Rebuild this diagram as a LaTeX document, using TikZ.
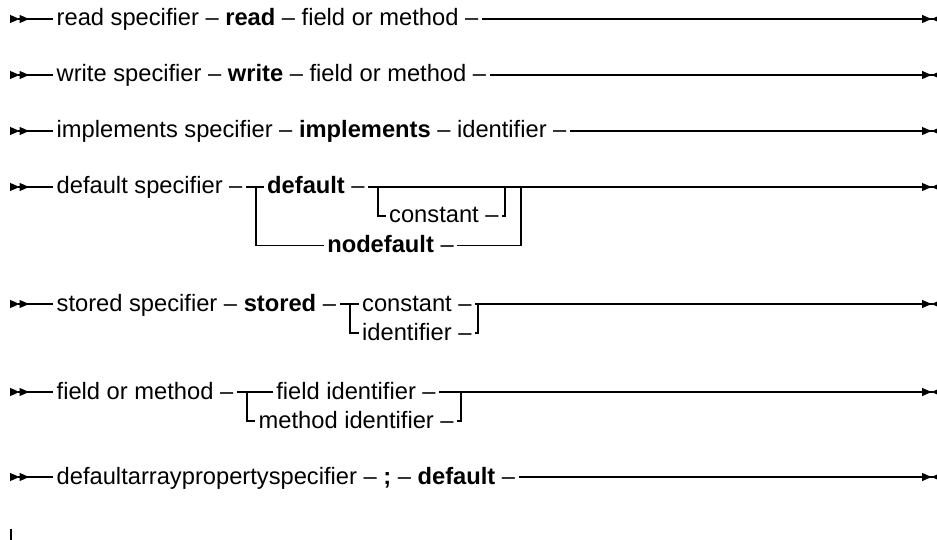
\documentclass[tikz,border=0pt]{standalone}
\usepackage{fontspec}
\setmainfont{Liberation Sans}
\usetikzlibrary{arrows.meta, positioning}

\begin{document}
\begin{tikzpicture}[
    x=1pt, y=-1pt,
    rail/.style={line width=1.1pt, black},
    railin/.style={rail, {Triangle[reversed, length=9.5pt, width=8pt] Triangle[reversed, length=9.5pt, width=8pt]}-},
    railout/.style={rail, -{Triangle[length=9.5pt, width=8pt] Triangle[reversed, length=9.5pt, width=8pt]}},
    term/.style={anchor=west, inner xsep=3.5pt, inner ysep=0pt, text height=14pt, text depth=0pt, font=\fontsize{23.7}{28}\selectfont},
]
\useasboundingbox (0,0) rectangle (937,540);

% read specifier
\coordinate (s1) at (10,19);
\coordinate (e1) at (941,19);
\node[term] (r1) at (53,19) {read specifier -- \textbf{read} -- field or method --};
\draw[railin] (s1) -- (r1);
\draw[railout] (r1) -- (e1);

% write specifier
\coordinate (s2) at (10,75);
\coordinate (e2) at (941,75);
\node[term] (w1) at (53,75) {write specifier -- \textbf{write} -- field or method --};
\draw[railin] (s2) -- (w1);
\draw[railout] (w1) -- (e2);

% implements specifier
\coordinate (s3) at (10,131);
\coordinate (e3) at (941,131);
\node[term] (i1) at (53,131) {implements specifier -- \textbf{implements} -- identifier --};
\draw[railin] (s3) -- (i1);
\draw[railout] (i1) -- (e3);

% default specifier
\coordinate (s4) at (10,187);
\coordinate (e4) at (941,187);
\node[term] (d0) at (53,187) {default specifier --};
\node[term] (d1) at (263.5,187) {\textbf{default} --};
\node[term] (d2) at (385.5,216) {constant --};
\node[term, anchor=center] (d3) at (390.5,245.5) {\textbf{nodefault} --};
\coordinate (d4) at (256,187);
\coordinate (d5) at (378,187);
\coordinate (d6) at (505,187);
\coordinate (d7) at (521,187);
\draw[railin] (s4) -- (d0);
\draw[rail] (d0) -- (d1);
\draw[railout] (d1) -- (e4);
\draw[rail] (d5) |- (d2);
\draw[rail] (d2) -| (d6);
\draw[rail] (d4) |- (d3);
\draw[rail] (d3) -| (d7);

% stored specifier
\coordinate (s5) at (10,304);
\coordinate (e5) at (941,304);
\node[term] (t0) at (53,304) {stored specifier -- \textbf{stored} --};
\node[term] (t1) at (358.5,304) {constant --};
\node[term] (t2) at (358.5,333) {identifier --};
\coordinate (t3) at (350,304);
\coordinate (t4) at (478,304);
\draw[railin] (s5) -- (t0);
\draw[rail] (t0) -- (t1);
\draw[railout] (t1) -- (e5);
\draw[rail] (t3) |- (t2);
\draw[rail] (t2) -| (t4);

% field or method
\coordinate (s6) at (10,392);
\coordinate (e6) at (941,392);
\node[term] (f0) at (53,392) {field or method --};
\node[term, anchor=center] (f1) at (356,392) {field identifier --};
\node[term] (f2) at (255,421) {method identifier --};
\coordinate (f3) at (247,392);
\coordinate (f4) at (461,392);
\draw[railin] (s6) -- (f0);
\draw[rail] (f0) -- (f1);
\draw[railout] (f1) -- (e6);
\draw[rail] (f3) |- (f2);
\draw[rail] (f2) -| (f4);

% defaultarraypropertyspecifier
\coordinate (s7) at (10,477);
\coordinate (e7) at (941,477);
\node[term] (a1) at (53,477) {defaultarraypropertyspecifier -- \textbf{;} -- \textbf{default} --};
\draw[railin] (s7) -- (a1);
\draw[railout] (a1) -- (e7);

% next diagram
\coordinate (k1) at (11,529);
\coordinate (k2) at (11,541);
\draw[rail] (k1) -- (k2);

\end{tikzpicture}
\end{document}
